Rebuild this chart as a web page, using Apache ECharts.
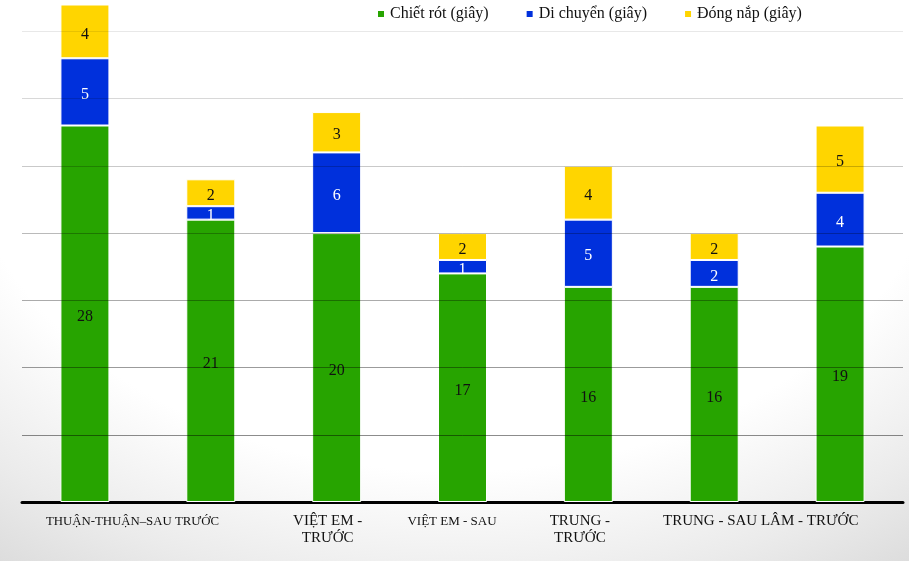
<!DOCTYPE html>
<html>
<head>
<meta charset="utf-8">
<script src="https://cdn.jsdelivr.net/npm/echarts@6/dist/echarts.min.js"></script>
<style>
  html, body { margin: 0; padding: 0; }
  body {
    width: 909px; height: 561px; overflow: hidden;
    background: radial-gradient(ellipse 85% 100% at 50% 20%, #ffffff 64%, #ebebeb 86%, #dcdcdc 100%);
  }
  #chart { width: 909px; height: 561px; }
</style>
</head>
<body>
<div id="chart"></div>
<script>
// Thời gian từng công đoạn (giây) theo từng người / ca
const categories = ['THUẬN - TRƯỚC', 'THUẬN - SAU', 'VIỆT EM - TRƯỚC', 'VIỆT EM - SAU', 'TRUNG - TRƯỚC', 'TRUNG - SAU', 'LÂM - TRƯỚC'];
const tickLabels = ['THUẬN-THUẬN–SAU TRƯỚC', '', 'VIỆT EM -\nTRƯỚC', 'VIỆT EM - SAU', 'TRUNG -\nTRƯỚC', 'TRUNG - SAU LÂM - TRƯỚC', ''];
const seriesNames = ['Chiết rót (giây)', 'Di chuyển (giây)', 'Đóng nắp (giây)'];
const chietRot = [28, 21, 20, 17, 16, 16, 19];
const diChuyen = [5, 1, 6, 1, 5, 2, 4];
const dongNap = [4, 2, 3, 2, 4, 2, 5];

// horizontal shift of each tick label (rich style key)
const labelShift = ['r1', 'n', 'l3', 'l4', 'l5', 'r6', 'n'];

const serif = '"Liberation Serif", "DejaVu Serif", serif';
const colors = ['#27a400', '#0030dc', '#ffd500'];

function barSeries(name, data, color, labelColor) {
  return {
    name: name,
    type: 'bar',
    stack: 'total',
    data: data,
    barWidth: 49,
    itemStyle: { color: color, borderColor: '#ffffff', borderWidth: 1 },
    label: {
      show: true,
      position: 'inside',
      offset: [0, 3],
      color: labelColor,
      fontFamily: serif,
      fontSize: 16
    }
  };
}

const chart = echarts.init(document.getElementById('chart'), null, { renderer: 'canvas' });
chart.setOption({
  backgroundColor: 'transparent',
  animation: false,
  color: colors,
  legend: {
    data: seriesNames,
    left: 371,
    top: 1,
    itemWidth: 8,
    itemHeight: 8,
    itemGap: 36,
    icon: 'rect',
    textStyle: { fontFamily: serif, fontSize: 16, color: '#111' }
  },
  grid: { left: 22, right: 6, top: 4.5, bottom: 59, containLabel: false, outerBoundsMode: 'none' },
  xAxis: {
    type: 'category',
    data: categories,
    axisLine: { show: true, lineStyle: { color: '#000', width: 3 } },
    axisTick: { show: false },
    axisLabel: {
      interval: 0,
      margin: 11,
      fontFamily: serif,
      fontSize: 15,
      color: '#111',
      lineHeight: 17,
      hideOverlap: false,
      formatter: function (value, index) {
        const txt = tickLabels[index];
        if (!txt) return '';
        const key = labelShift[index];
        return txt.split('\n').map(function (line) { return '{' + key + '|' + line + '}'; }).join('\n');
      },
      rich: {
        n: {},
        r1: { padding: [0, 0, 0, 95], fontSize: 12.8, fontFamily: serif, color: '#111' },
        r6: { padding: [0, 0, 0, 93], fontSize: 15, fontFamily: serif, color: '#111' },
        l3: { padding: [0, 18, 0, 0], fontSize: 15, fontFamily: serif, color: '#111', lineHeight: 17 },
        l4: { padding: [0, 21, 0, 0], fontSize: 13, fontFamily: serif, color: '#111' },
        l5: { padding: [0, 17, 0, 0], fontSize: 15, fontFamily: serif, color: '#111', lineHeight: 17 }
      }
    }
  },
  yAxis: {
    type: 'value',
    min: 0,
    max: 37,
    interval: 5,
    z: 5,
    axisLine: { show: false },
    axisTick: { show: false },
    axisLabel: { show: false },
    splitLine: {
      show: true,
      showMinLine: false,
      showMaxLine: false,
      lineStyle: {
        width: 1,
        // lines fade from darker near the base to faint near the top
        color: new echarts.graphic.LinearGradient(0, 30, 0, 435, [
          { offset: 0, color: 'rgba(0,0,0,0.09)' },
          { offset: 1, color: 'rgba(0,0,0,0.45)' }
        ], true)
      }
    }
  },
  series: [
    barSeries(seriesNames[0], chietRot, colors[0], '#111'),
    barSeries(seriesNames[1], diChuyen, colors[1], '#ffffff'),
    barSeries(seriesNames[2], dongNap, colors[2], '#111')
  ]
});
</script>
</body>
</html>
